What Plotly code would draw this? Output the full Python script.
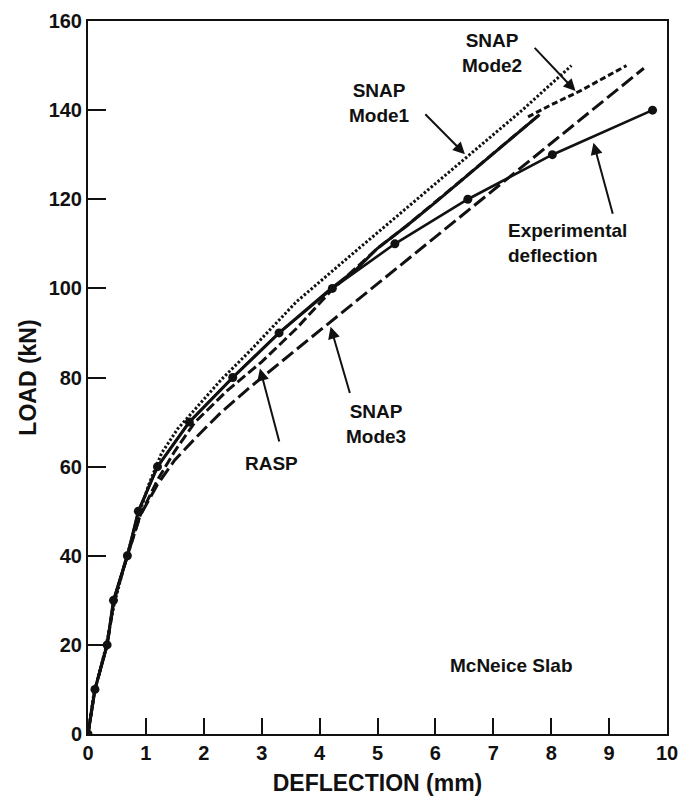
import plotly.graph_objects as go

# ---- data ----
exp_x = [0, 0.12, 0.33, 0.44, 0.68, 0.87, 1.2, 1.75, 2.5, 3.3, 4.22, 5.3, 6.56, 8.02, 9.75]
exp_y = [0, 10, 20, 30, 40, 50, 60, 70, 80, 90, 100, 110, 120, 130, 140]

mode1_x = [0, 0.1, 0.3, 0.45, 0.65, 0.85, 1.05, 1.27, 1.55, 1.85, 2.3, 2.8, 3.2, 3.6, 4.5, 5.5, 6.5, 7.5, 8.35]
mode1_y = [0, 9, 19, 29, 39, 48, 56, 63, 68.5, 73, 79.5, 86, 91.5, 97, 107, 118, 129, 140, 150]

mode2_x = [0, 0.12, 0.33, 0.44, 0.68, 0.87, 1.2, 1.75, 2.5, 3.3, 4.2, 4.65, 5.0, 5.5, 6.0, 6.5, 7.0, 7.5, 7.8]
mode2_y = [0, 10, 20, 30, 40, 50, 60, 70, 80, 90, 100, 104.5, 109, 114, 119.3, 124.8, 130.3, 135.8, 139]
mode2_ext_x = [7.6, 8.0, 8.5, 9.3]
mode2_ext_y = [138.5, 141.2, 144.3, 150]

rasp_x = [0, 0.12, 0.33, 0.45, 0.68, 0.9, 1.2, 1.5, 1.85, 2.4, 3.0, 3.6, 4.2, 5.0, 5.5, 6.0, 6.5, 7.0, 7.5, 7.8]
rasp_y = [0, 10, 20, 30, 40, 49, 57, 63.5, 70, 77, 83.5, 91, 99.5, 109, 114, 119.3, 124.8, 130.3, 135.8, 139]

mode3_x = [0, 0.12, 0.33, 0.45, 0.68, 0.9, 1.05, 1.2, 1.5, 1.9, 2.3, 2.75, 3.6, 4.2, 5.0, 6.0, 7.0, 8.0, 9.0, 9.6]
mode3_y = [0, 10, 20, 30, 40, 49, 52.5, 56, 61.5, 67, 72.2, 77.3, 86.3, 92.6, 101, 111.5, 122, 132.6, 143.1, 149.4]

x_ticks = [0, 1, 2, 3, 4, 5, 6, 7, 8, 9, 10]
y_ticks = [0, 20, 40, 60, 80, 100, 120, 140, 160]

FONT = "Liberation Sans, Arial, sans-serif"
BLACK = "#111111"
LW = 3

fig = go.Figure()
fig.add_trace(go.Scatter(x=mode3_x, y=mode3_y, mode="lines", name="SNAP Mode3",
                         line=dict(color=BLACK, width=LW, dash="14px,5px")))
fig.add_trace(go.Scatter(x=rasp_x, y=rasp_y, mode="lines", name="RASP",
                         line=dict(color=BLACK, width=LW, dash="10px,4px")))
fig.add_trace(go.Scatter(x=mode2_x, y=mode2_y, mode="lines", name="SNAP Mode2",
                         line=dict(color=BLACK, width=LW)))
fig.add_trace(go.Scatter(x=mode2_ext_x, y=mode2_ext_y, mode="lines", name="SNAP Mode2 ext",
                         line=dict(color=BLACK, width=LW, dash="6px,3px")))
fig.add_trace(go.Scatter(x=mode1_x, y=mode1_y, mode="lines", name="SNAP Mode1",
                         line=dict(color=BLACK, width=LW, dash="2.5px,2px")))
fig.add_trace(go.Scatter(x=exp_x, y=exp_y, mode="lines+markers", name="Experimental",
                         line=dict(color=BLACK, width=2.6),
                         marker=dict(color=BLACK, size=9)))

def label(x, y, text, align="center"):
    fig.add_annotation(x=x, y=y, xref="x", yref="y", text=text, showarrow=False,
                       align=align, font=dict(family=FONT, size=19, color=BLACK, weight=700))

def pointer(x0, y0, x1, y1):
    fig.add_annotation(x=x1, y=y1, ax=x0, ay=y0, xref="x", yref="y", axref="x", ayref="y",
                       text="", showarrow=True, arrowhead=2, arrowsize=1.2, arrowwidth=2,
                       arrowcolor=BLACK)

label(5.03, 141.7, "SNAP<br>Mode1")
pointer(5.80, 139.4, 6.51, 130.1)
label(6.97, 152.8, "SNAP<br>Mode2")
pointer(7.69, 154.3, 8.42, 144.3)
label(8.29, 110.2, "Experimental<br>deflection", align="left")
pointer(9.07, 116.4, 8.73, 132.7)
label(3.17, 60.8, "RASP")
pointer(3.31, 65.3, 2.97, 82.0)
label(4.97, 69.5, "SNAP<br>Mode3")
pointer(4.53, 76.2, 4.19, 91.4)
label(7.32, 15.4, "McNeice Slab")

tick_font = dict(family=FONT, size=20, color=BLACK, weight=700)
title_font = dict(family=FONT, size=23, color=BLACK, weight=700)
fig.update_layout(
    width=688, height=803,
    margin=dict(l=88, r=10, t=18, b=69),
    paper_bgcolor="white", plot_bgcolor="white",
    showlegend=False,
    xaxis=dict(range=[0, 10], tickvals=x_ticks, ticktext=[str(v) for v in x_ticks],
               ticks="inside", ticklen=16, tickwidth=2, tickcolor=BLACK,
               showline=True, linewidth=2, linecolor=BLACK, mirror=True,
               showgrid=False, zeroline=False, tickfont=tick_font,
               title=dict(text="DEFLECTION (mm)", font=title_font, standoff=12)),
    yaxis=dict(range=[0, 160], tickvals=y_ticks, ticktext=[str(v) for v in y_ticks],
               ticks="inside", ticklen=18, tickwidth=2, tickcolor=BLACK,
               showline=True, linewidth=2, linecolor=BLACK, mirror=True,
               showgrid=False, zeroline=False, tickfont=tick_font,
               title=dict(text="LOAD (kN)", font=title_font, standoff=6)),
)

fig.write_html("out.html")
